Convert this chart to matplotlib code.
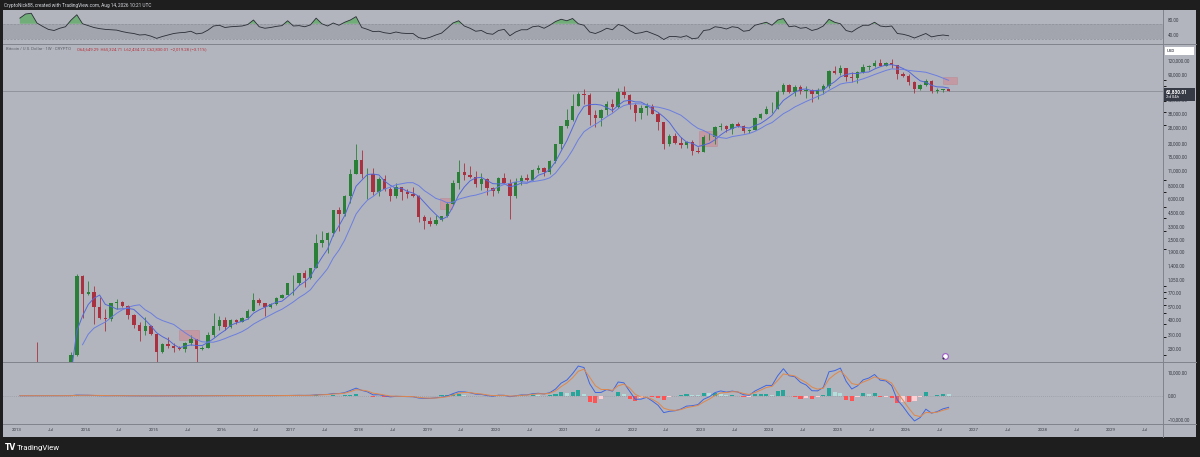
import matplotlib
matplotlib.use('Agg')
import matplotlib.pyplot as plt
from matplotlib.patches import Rectangle
from matplotlib.lines import Line2D
from matplotlib.ticker import FuncFormatter, NullFormatter, NullLocator
import numpy as np
import pandas as pd

plt.rcParams['font.family'] = ['Roboto', 'DejaVu Sans']

# BTC / USD, one candle per month (Jan 2013 .. Aug 2026)
startMonth = '2013-01'
firstOpen = 13.5

closes = [
    20.4, 33.4, 145, 139, 128, 97, 106, 135, 133, 204, 1130, 760,                              # 2013
    800, 570, 455, 445, 630, 640, 585, 480, 386, 338, 378, 320,                                # 2014
    217, 254, 244, 236, 230, 263, 284, 230, 236, 314, 377, 430,                                # 2015
    368, 437, 416, 448, 530, 673, 624, 575, 608, 700, 745, 964,                                # 2016
    970, 1190, 1080, 1350, 2300, 2480, 2870, 4700, 4340, 6440, 10200, 13860,                   # 2017
    10200, 10300, 6930, 9240, 7500, 6390, 7730, 7010, 6630, 6370, 4040, 3740,                  # 2018
    3450, 3820, 4100, 5330, 8560, 10800, 10080, 9600, 8300, 9150, 7550, 7190,                  # 2019
    9350, 8540, 6420, 8630, 9450, 9140, 11350, 11660, 10780, 13800, 19700, 29000,              # 2020
    33100, 45200, 58800, 57700, 37300, 35000, 41500, 47100, 43800, 61300, 57000, 46200,        # 2021
    38500, 43200, 45500, 37700, 31800, 19900, 23300, 20050, 19400, 20500, 17150, 16550,        # 2022
    23100, 23150, 28450, 29250, 27200, 30450, 29250, 25950, 26950, 34650, 37700, 42300,        # 2023
    42600, 61200, 71300, 60650, 67500, 62700, 64600, 58950, 63300, 70200, 96400, 93400,        # 2024
    102400, 84350, 82550, 94200, 104600, 107150, 115750, 108250, 114050, 109600, 90400, 87500, # 2025
    76000, 66000, 70500, 78000, 63000, 64500, 64800, 62830.01,                                 # 2026
]
highs = [
    20.4, 33.5, 145, 266, 140, 130, 111, 135, 145, 215, 1163, 1156,
    1000, 900, 710, 550, 630, 680, 650, 600, 490, 410, 460, 385,
    320, 265, 300, 260, 247, 268, 315, 285, 245, 330, 500, 470,
    460, 445, 440, 465, 550, 780, 700, 625, 630, 720, 755, 975,
    1150, 1210, 1290, 1350, 2790, 2980, 2950, 4750, 5000, 6470, 11500, 19700,
    17200, 11800, 11700, 9750, 9990, 7770, 8500, 7760, 7400, 7700, 6600, 4250,
    4080, 4200, 4100, 5600, 9000, 13880, 13150, 12300, 10950, 10500, 9500, 7750,
    9580, 10500, 9190, 9470, 10070, 10380, 11450, 12480, 12080, 14100, 19900, 29300,
    41950, 58350, 61800, 64850, 59600, 41300, 42300, 50500, 52900, 67000, 69000, 59100,
    47900, 45800, 48200, 47400, 40000, 31900, 24700, 25200, 22800, 21000, 21450, 18400,
    23900, 25250, 29200, 31000, 29800, 31400, 31800, 30200, 27500, 35200, 38450, 44700,
    48950, 63900, 73800, 72800, 71950, 72000, 70000, 65100, 66500, 73600, 99600, 108300,
    109350, 102500, 95000, 95750, 111900, 110500, 123200, 124450, 117900, 126200, 111200, 94500,
    90000, 78000, 73500, 80500, 79000, 66500, 66000, 65324.71,
]
lows = [
    13.2, 19.1, 33, 50, 80, 88, 65, 96, 120, 118, 196, 455,
    750, 400, 440, 340, 420, 545, 570, 440, 365, 275, 315, 310,
    152, 212, 235, 215, 226, 218, 253, 162, 224, 235, 300, 350,
    350, 365, 395, 412, 440, 530, 600, 470, 565, 605, 690, 740,
    750, 915, 890, 1060, 1330, 2100, 1840, 2670, 2970, 4160, 5500, 10200,
    9400, 6000, 6500, 6430, 7050, 5780, 6100, 5880, 6100, 6200, 3650, 3150,
    3350, 3400, 3700, 4080, 5300, 7500, 9100, 9350, 7700, 7300, 6550, 6430,
    6860, 8470, 3850, 6150, 8100, 8900, 8990, 10570, 9900, 10400, 13200, 17600,
    28100, 32300, 45000, 47000, 30000, 28800, 29300, 37300, 39600, 43300, 53300, 42000,
    32900, 34300, 37200, 37600, 26700, 17600, 18800, 19600, 18200, 18200, 15500, 16300,
    16500, 21400, 19600, 26900, 25800, 24800, 28900, 25200, 24900, 26600, 34150, 37600,
    38550, 41900, 59100, 59600, 56550, 58600, 53500, 49100, 52600, 58900, 66800, 90500,
    89200, 78200, 76600, 74400, 93400, 98200, 105100, 107300, 107300, 103500, 80600, 84500,
    72000, 60000, 64500, 69000, 60500, 60500, 61000, 62434.72,
]

rsiValues = [
    85, 96, 98, 72, 63, 55, 52, 58, 62, 80, 94, 70,      # 2013
    65, 60, 57, 55, 54, 53, 49, 46, 44, 40, 41, 37,      # 2014
    31, 36, 40, 44, 46, 47, 50, 43, 45, 53, 64, 66,      # 2015
    60, 62, 63, 64, 68, 80, 62, 58, 60, 63, 65, 78,      # 2016
    64, 65, 62, 67, 85, 70, 64, 72, 66, 74, 80, 89,      # 2017
    60, 55, 49, 50, 46, 44, 48, 45, 44, 44, 33, 30,      # 2018
    34, 40, 45, 58, 72, 78, 64, 58, 50, 52, 44, 42,      # 2019
    52, 55, 38, 48, 54, 54, 62, 64, 58, 66, 76, 82,      # 2020
    78, 84, 70, 66, 48, 44, 50, 58, 54, 68, 64, 52,      # 2021
    44, 46, 50, 44, 38, 28, 36, 36, 34, 38, 30, 32,      # 2022
    52, 54, 62, 60, 56, 62, 60, 50, 52, 66, 70, 74,      # 2023
    66, 80, 84, 62, 64, 58, 60, 52, 56, 64, 82, 74,      # 2024
    70, 52, 48, 58, 66, 66, 74, 64, 62, 64, 44, 42,      # 2025
    38, 32, 38, 44, 35, 38, 40, 38,                      # 2026
]

# highlighted zones: (from year, to year, low price, high price)
zones = [
    (2015.37, 2015.66, 280, 348),
    (2019.19, 2019.36, 4820, 6120),
    (2022.97, 2023.24, 18930, 26250),
    (2026.54, 2026.75, 72800, 84700),
]

priceTicks = [230, 310, 430, 570, 770, 1050, 1400, 1900, 2500, 3300, 4500, 6000, 8000,
              11000, 15000, 20000, 28000, 38000, 52000, 90000, 120000]
rsiTicks = [40, 80]
macdTicks = [-10000, 0, 10000]
yearTicks = list(range(2013, 2030))

lastPrice = 62830.01
headerLine = 'CryptoNick88, created with TradingView.com, Aug 14, 2026 10:21 UTC'
symbolLine = 'Bitcoin / U.S. Dollar \u00b7 1W \u00b7 CRYPTO'
ohlcLine = 'O64,649.29  H65,324.71  L62,434.72  C62,830.01  \u22122,019.28 (\u22123.11%)'

# figure layout, in pixels of the 1200 x 457 picture
W, H = 1200, 457
BG = '#b2b5bd'
SEP = '#80838c'
TXT = '#3a3d47'
UPC = '#2b8038'
DNC = '#a8323f'


def px(x0, y0, x1, y1):
    '''pixel box with top-left origin -> figure fraction [l, b, w, h]'''
    return [x0 / W, 1 - y1 / H, (x1 - x0) / W, (y1 - y0) / H]


def figLine(x0, y0, x1, y1, **kw):
    fig.add_artist(Line2D([x0 / W, x1 / W], [1 - y0 / H, 1 - y1 / H],
                          transform=fig.transFigure, **kw))


def figRect(x0, y0, x1, y1, **kw):
    fig.add_artist(Rectangle((x0 / W, 1 - y1 / H), (x1 - x0) / W, (y1 - y0) / H,
                             transform=fig.transFigure, **kw))


# data + indicators
months = pd.period_range(startMonth, periods=len(closes), freq='M')
t = np.array([p.year + (p.month - 0.5) / 12 for p in months])
df = pd.DataFrame({'open': [firstOpen] + closes[:-1], 'high': highs,
                   'low': lows, 'close': closes})

maFast = df['close'].rolling(5).mean()
maSlow = df['close'].rolling(12).mean()
rsi = np.array(rsiValues, dtype=float)

emaFast = df['close'].ewm(com=1.0, adjust=False).mean()
emaSlow = df['close'].ewm(com=3.0, adjust=False).mean()
macd = emaFast - emaSlow
signal = macd.ewm(com=0.8, adjust=False).mean()
hist = (macd - signal).to_numpy()

fig = plt.figure(figsize=(12, 4.57), dpi=100, facecolor='#1e1e1e')
figRect(3, 10, 1196, 437, facecolor=BG, edgecolor='none', zorder=-1)

axRsi = fig.add_axes(px(3, 10, 1163, 44))
ax = fig.add_axes(px(3, 44, 1163, 362), sharex=axRsi)
axMacd = fig.add_axes(px(3, 362, 1163, 424), sharex=axRsi)

for a in (axRsi, ax, axMacd):
    a.set_facecolor(BG)
    for s in a.spines.values():
        s.set_visible(False)
    a.yaxis.tick_right()
    a.tick_params(axis='y', length=0, pad=3.5, labelsize=3.3, labelcolor=TXT)
    a.tick_params(axis='x', length=0, labelbottom=False)
    a.yaxis.set_minor_locator(NullLocator())

axRsi.set_xlim(2012.795, 2029.76)

# --- RSI panel
axRsi.fill_between([2012.5, 2030], 30, 70, color='#a2a5ad', lw=0)
axRsi.axhline(70, color='#8d9099', lw=0.5, ls=(0, (3, 2)))
axRsi.axhline(30, color='#8d9099', lw=0.5, ls=(0, (3, 2)))
axRsi.fill_between(t, 70, rsi, where=rsi > 70, interpolate=True,
                   color='#46a84a', alpha=0.6, lw=0)
axRsi.plot(t, rsi, color='#2a2d36', lw=0.6)
axRsi.set_ylim(16, 106.7)
axRsi.set_yticks(rsiTicks)
axRsi.yaxis.set_major_formatter(FuncFormatter(lambda v, p: f'{v:.2f}'))

# --- price panel
ax.set_yscale('log')
isUp = df['close'] >= df['open']
colors = np.where(isUp, UPC, DNC)
ax.vlines(t, df['low'], df['high'], colors=colors, lw=0.6, zorder=3)
bodyLo = np.minimum(df['open'], df['close'])
bodyH = np.maximum(np.abs(df['close'] - df['open']), df['close'] * 0.006)
ax.bar(t, bodyH, bottom=bodyLo, width=0.05, color=colors, lw=0, zorder=4)
ax.plot(t, maFast, color='#5468d8', lw=0.7, zorder=5)
ax.plot(t, maSlow, color='#6b7ee0', lw=0.7, zorder=5)
for x0, x1, p0, p1 in zones:
    ax.add_patch(Rectangle((x0, p0), x1 - x0, p1 - p0, facecolor='#e06c7a',
                           alpha=0.38, edgecolor='#c0606e', lw=0.4, zorder=2))
ax.axhline(lastPrice, color='#8b8e97', lw=0.6, zorder=1)
ax.set_ylim(173.6, 173600)
ax.set_yticks(priceTicks)
ax.yaxis.set_major_formatter(FuncFormatter(lambda v, p: f'{v:,.2f}'))
ax.yaxis.set_minor_formatter(NullFormatter())

# --- MACD panel
histColors = []
prev = 0.0
for h in hist:
    if h >= 0:
        histColors.append('#26a69a' if h >= prev else '#b2dfdb')
    else:
        histColors.append('#ff5252' if h <= prev else '#ffcdd2')
    prev = h
axMacd.axhline(0, color='#8d9099', lw=0.5, ls=(0, (1, 2)))
axMacd.bar(t, hist, width=0.06, color=histColors, lw=0, zorder=2)
axMacd.plot(t, macd, color='#4166e0', lw=0.7, zorder=3)
axMacd.plot(t, signal, color='#e0874a', lw=0.7, zorder=3)
axMacd.set_ylim(-12000, 14300)
axMacd.set_yticks(macdTicks)
axMacd.yaxis.set_major_formatter(
    FuncFormatter(lambda v, p: f'{v:,.2f}'.replace('-', '\u2212')))

xt = []
xl = []
for y in yearTicks:
    xt += [y, y + 0.496]
    xl += [str(y), 'Jul']
axMacd.set_xticks(xt)
axMacd.set_xticklabels(xl)
axMacd.tick_params(axis='x', labelbottom=True, length=0, pad=3, labelsize=3.2,
                   labelcolor=TXT)

# separators
for yy in (44, 362, 424):
    figLine(3, yy, 1196, yy, color=SEP, lw=0.7)
figLine(1163, 10, 1163, 437, color=SEP, lw=0.7)

# price-scale labels
figRect(1165, 47, 1194, 55, facecolor='white', edgecolor='none', zorder=3)
fig.text(1167 / W, 1 - 51 / H, 'USD', fontsize=3.2, color='#131722', va='center', zorder=4)
figRect(1164, 88, 1195, 101, facecolor='#363a45', edgecolor='none', zorder=3)
fig.text(1166 / W, 1 - 91.6 / H, f'{lastPrice:,.2f}', fontsize=3.4, color='white',
         va='center', fontweight='bold', zorder=4)
fig.text(1166 / W, 1 - 97.5 / H, '2d 04h', fontsize=3.1, color='white', va='center', zorder=4)

# header texts
fig.text(4 / W, 1 - 5 / H, headerLine, fontsize=3.4, color='#d6d8de', va='center')
fig.text(6 / W, 1 - 49.5 / H, symbolLine, fontsize=3.1, color='#5d606b', va='center')
fig.text(77 / W, 1 - 49.5 / H, ohlcLine, fontsize=3.1, color='#b8323f', va='center')

# small event badge
fig.add_artist(Line2D([945 / W], [1 - 356 / H], marker='o', ms=4.2, mfc='white',
                      mec='#a265c8', mew=0.9, transform=fig.transFigure))
fig.add_artist(Line2D([942.5 / W], [1 - 357.5 / H], marker='o', ms=1.4, mfc='#2a2d36',
                      mec='none', transform=fig.transFigure))

# TradingView logo
fig.text(5 / W, 1 - 448 / H, 'TV', fontsize=5.5, color='white', fontweight='bold',
         va='center', family='DejaVu Sans')
fig.text(17 / W, 1 - 448 / H, 'TradingView', fontsize=5.6, color='white', va='center')

fig.savefig('out.png', dpi=100, facecolor=fig.get_facecolor())
